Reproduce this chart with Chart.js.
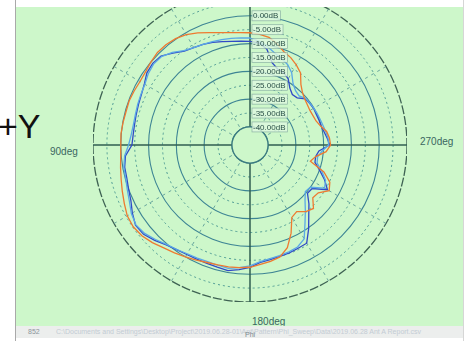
<!DOCTYPE html>
<html>
<head>
<meta charset="utf-8">
<script src="https://cdn.jsdelivr.net/npm/chart.js@4.4.0/dist/chart.umd.min.js"></script>
<style>
  html, body { margin: 0; padding: 0; width: 469px; height: 341px; overflow: hidden; background: #ffffff;
    font-family: "Liberation Sans", Arial, sans-serif; }
  #plot { position: absolute; left: 16px; top: 7px; width: 447px; height: 319px; background: #cdf7ca; overflow: hidden; }
  #wrap { position: absolute; left: 77px; top: -19px; width: 314px; height: 314px; }
  .deg { position: absolute; font-size: 10px; line-height: 10px; color: #3a6660; white-space: nowrap; }
  #status { position: absolute; left: 16px; top: 326px; width: 447px; height: 12px; background: #eceeed;
    font-size: 7px; line-height: 12px; color: #c3ccd4; white-space: nowrap; overflow: hidden; }
  #status .id { position: absolute; left: 12px; color: #8d959c; }
  #status .path { position: absolute; left: 40px; }
  #status .phi { position: absolute; left: 229px; top: 3px; color: #7d878f; }
  #frameL { position: absolute; left: 15px; top: 0; width: 1px; height: 341px; background: #a9a9a9; }
  #frameR { position: absolute; left: 463px; top: 0; width: 1px; height: 341px; background: #d6d6d6; }
  #axisName { position: absolute; left: -2px; top: 109px; font-size: 34px; line-height: 34px; color: #111; z-index: 5; }
</style>
</head>
<body>
<div id="plot">
  <div id="wrap"><canvas id="c" width="314" height="314"></canvas></div>
  <div class="deg" style="left:34px;top:140px">90deg</div>
  <div class="deg" style="left:404px;top:130px">270deg</div>
  <div class="deg" style="left:236px;top:310px">180deg</div>
</div>
<div id="status">
  <span class="id">852</span>
  <span class="path">C:\Documents and Settings\Desktop\Project\2019.06.28-01\Ant\Pattern\Phi_Sweep\Data\2019.06.28 Ant A Report.csv</span>
  <span class="phi">Phi</span>
</div>
<div id="frameL"></div>
<div id="frameR"></div>
<div id="axisName">+Y</div>

<script>
// Measurement angles (deg, counter-clockwise from the top: 90deg on the left, 270deg on the right)
const ANGLES_DEG = [
  0, 5, 10, 15, 20, 25, 30, 35, 40, 45,
  50, 55, 60, 65, 70, 75, 80, 85, 90, 95,
  100, 105, 110, 115, 120, 125, 130, 135, 140, 145,
  150, 155, 160, 165, 170, 175, 180, 185, 190, 195,
  200, 205, 210, 215, 220, 225, 230, 235, 240, 245,
  250, 255, 260, 265, 270, 275, 280, 285, 290, 295,
  300, 305, 310, 315, 320, 325, 330, 335, 340, 345,
  350, 355
];

// Relative level in dB at each angle
const patternA = [
  -6.1, -5.9, -5.4, -4.6, -3.5, -2.0, -0.6, 0.2, 0.6, 0.6,
  0.0, -0.6, -0.8, -0.5, -0.2, -0.3, -0.1, 0.1, 0.0, 0.2,
  0.8, 1.5, 2.4, 3.4, 4.5, 4.8, 4.3, 3.2, 1.8, 0.9,
  0.0, -0.8, -1.5, -1.8, -2.0, -2.2, -2.5, -3.4, -4.0, -4.8,
  -7.2, -11.5, -16.4, -17.2, -15.2, -14.2, -17.0, -16.5, -13.6, -14.8,
  -18.2, -24.0, -22.5, -19.0, -17.5, -17.8, -18.5, -20.2, -21.2, -21.5,
  -21.6, -21.3, -20.8, -19.8, -18.0, -14.8, -13.2, -11.8, -10.8, -8.8,
  -7.2, -6.5
];
const patternB = [
  -9.2, -9.0, -8.6, -8.0, -7.2, -6.5, -6.0, -5.3, -3.3, -1.2,
  -0.8, -1.2, -2.6, -3.4, -3.8, -4.1, -4.3, -4.3, -4.0, -1.5,
  -0.7, -0.6, 0.0, 0.8, 2.4, 3.8, 3.5, 2.0, 0.4, -0.5,
  -1.0, -1.2, -1.2, -1.0, -0.6, -1.5, -2.5, -4.1, -4.6, -5.0,
  -5.2, -5.5, -5.7, -9.7, -13.6, -16.5, -19.5, -19.2, -14.3, -16.9,
  -19.8, -22.3, -22.5, -21.6, -17.8, -18.6, -19.4, -20.0, -20.1, -20.2,
  -20.1, -20.3, -20.6, -22.5, -22.8, -21.5, -19.0, -17.8, -17.4, -15.8,
  -11.5, -9.6
];
const patternC = [
  -8.0, -7.8, -7.5, -7.2, -6.9, -6.5, -6.0, -5.0, -3.0, -1.5,
  -1.2, -1.8, -2.8, -3.2, -3.5, -3.8, -3.9, -3.6, -2.8, -1.2,
  -0.4, -0.2, 0.5, 1.4, 2.8, 3.6, 3.0, 1.6, 0.2, -0.6,
  -1.3, -1.6, -1.8, -1.7, -1.4, -2.2, -3.0, -4.4, -5.0, -5.3,
  -5.6, -6.0, -7.5, -12.0, -15.5, -18.5, -20.5, -20.0, -15.5, -16.5,
  -19.0, -21.5, -21.8, -20.5, -18.2, -18.3, -18.8, -19.3, -19.6, -19.8,
  -20.0, -20.2, -20.4, -21.5, -21.0, -19.5, -16.5, -14.5, -13.4, -12.2,
  -10.5, -9.0
];

// Ring levels (dB) and the levels that carry a text label
const RING_LEVELS = [-40, -35, -30, -25, -20, -15, -10, -5, 0, 5, 10];
const LABEL_LEVELS = [0, -5, -10, -15, -20, -25, -30, -35, -40];
const HOLE_LEVEL = -40;
const OUTER_LEVEL = 10;
const SCALE_MIN = -46.5;   // leaves the empty hole in the middle

const BG = '#cdf7ca';

// The radar scale runs clockwise, so slot k shows the angle (360 - 5k)
const n = ANGLES_DEG.length;
const slot = k => (n - k) % n;
const radarLabels = ANGLES_DEG.map((_, k) => ANGLES_DEG[slot(k)]);
const toRadar = arr => arr.map((_, k) => arr[slot(k)]);

const ringStyle = v => {
  if (v === OUTER_LEVEL) return { color: '#3e6253', width: 1.3, dash: [9, 2] };
  if (v === HOLE_LEVEL) return { color: '#3a7b80', width: 1.2, dash: [] };
  if (v % 10 === 0) return { color: '#3d8494', width: 1.1, dash: [] };
  return { color: '#4e9a94', width: 1, dash: [2, 3] };
};

const spokeStyle = a => {
  if (a % 90 === 0) return { color: '#2f5e50', width: 1.5, dash: [] };
  if (a % 30 === 0) return { color: '#5c9c97', width: 0.9, dash: [3, 4] };
  return { color: 'rgba(0,0,0,0)', width: 0, dash: [] };
};

const holeAndLevels = {
  id: 'holeAndLevels',
  beforeDatasetsDraw(chart) {
    const s = chart.scales.r;
    const ctx = chart.ctx;
    const rh = s.getDistanceFromCenterForValue(HOLE_LEVEL);
    ctx.save();
    ctx.beginPath();
    ctx.arc(s.xCenter, s.yCenter, rh, 0, Math.PI * 2);
    ctx.fillStyle = BG;
    ctx.fill();
    ctx.lineWidth = 1.3;
    ctx.strokeStyle = '#3a7b80';
    ctx.stroke();
    ctx.restore();
  },
  afterDatasetsDraw(chart) {
    const s = chart.scales.r;
    const ctx = chart.ctx;
    ctx.save();
    ctx.font = '8px "Liberation Sans", Arial, sans-serif';
    ctx.textBaseline = 'middle';
    ctx.textAlign = 'left';
    LABEL_LEVELS.forEach(v => {
      const y = s.yCenter - s.getDistanceFromCenterForValue(v);
      const text = v.toFixed(2) + 'dB';
      const w = ctx.measureText(text).width;
      const x = s.xCenter + 3;
      ctx.fillStyle = 'rgba(222,247,222,0.8)';
      ctx.fillRect(x - 1, y - 5, w + 3, 10);
      ctx.strokeStyle = 'rgba(110,150,145,0.7)';
      ctx.lineWidth = 0.7;
      ctx.strokeRect(x - 1, y - 5, w + 3, 10);
      ctx.fillStyle = '#2b5048';
      ctx.fillText(text, x, y + 0.5);
    });
    ctx.restore();
  }
};

new Chart(document.getElementById('c'), {
  type: 'radar',
  data: {
    labels: radarLabels,
    datasets: [
      { label: 'A', data: toRadar(patternA), borderColor: '#ee7a30' },
      { label: 'C', data: toRadar(patternC), borderColor: '#5aa8e6' },
      { label: 'B', data: toRadar(patternB), borderColor: '#3049c6' }
    ]
  },
  options: {
    responsive: false,
    animation: false,
    layout: { padding: 0 },
    elements: {
      line: { borderWidth: 1.3, tension: 0, fill: false },
      point: { radius: 0, hoverRadius: 0 }
    },
    plugins: { legend: { display: false }, tooltip: { enabled: false } },
    scales: {
      r: {
        min: SCALE_MIN,
        max: OUTER_LEVEL,
        afterBuildTicks: scale => { scale.ticks = RING_LEVELS.map(v => ({ value: v })); },
        ticks: { display: false },
        pointLabels: { display: false },
        grid: {
          circular: true,
          color: c => ringStyle(c.tick.value).color,
          lineWidth: c => ringStyle(c.tick.value).width
        },
        border: { dash: c => ringStyle(c.tick.value).dash },
        angleLines: {
          display: true,
          color: c => spokeStyle(radarLabels[c.index]).color,
          lineWidth: c => spokeStyle(radarLabels[c.index]).width,
          borderDash: c => spokeStyle(radarLabels[c.index]).dash
        }
      }
    }
  },
  plugins: [holeAndLevels]
});
</script>
</body>
</html>
